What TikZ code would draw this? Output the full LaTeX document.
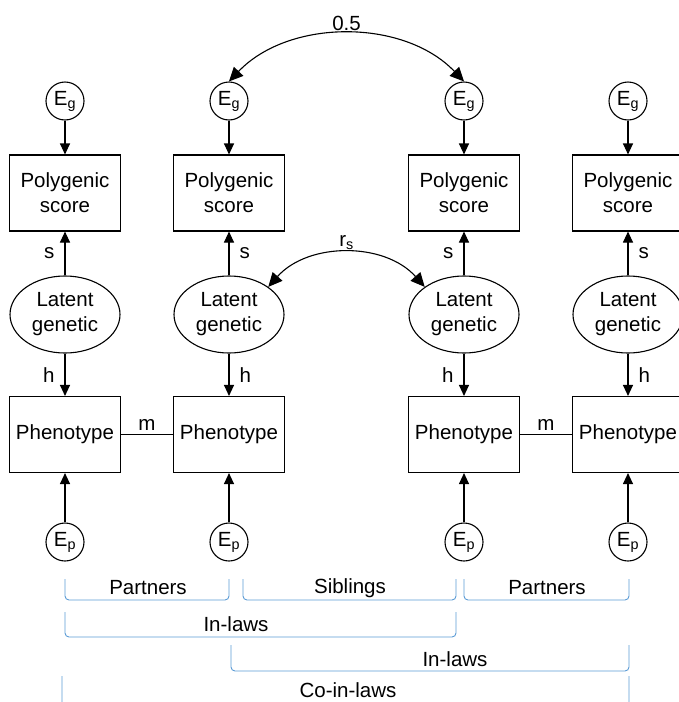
\documentclass[tikz,border=0pt]{standalone}
\usepackage{fontspec}
\setmainfont{Liberation Sans}
\usetikzlibrary{arrows.meta,shapes.geometric}
\definecolor{bracketblue}{RGB}{91,155,213}

\begin{document}
\begin{tikzpicture}[x=1pt, y=-1pt,
                    every node/.style={font=\fontsize{20.5}{25}\selectfont},
                    measured/.style={draw, line width=1.1pt, minimum width=111pt, minimum height=76pt, align=center, inner sep=0pt},
                    latent/.style={draw, ellipse, line width=1.1pt, minimum width=110pt, minimum height=77pt, align=center, inner sep=0pt},
                    resid/.style={draw, circle, line width=1.1pt, minimum size=38pt, inner sep=0pt},
                    link/.style={line width=1.1pt, -{Triangle[length=11pt,width=10pt]}},
                    covar/.style={line width=1.1pt, {Triangle[length=14pt,width=13pt]}-{Triangle[length=14pt,width=13pt]}},
                    bracket/.style={draw=bracketblue, line width=0.9pt, rounded corners=4pt}]
                    \useasboundingbox (0,0) rectangle (678,702);

                    % one column per person
                    \foreach \i/\x/\anc in {1/65/east, 2/229/west, 3/464/east, 4/628/west} {
                        \node[resid] (eg\i) at (\x,101) {E\textsubscript{g}};
                        \node[measured] (pgs\i) at (\x,193) {Polygenic\\score};
                        \node[latent] (lat\i) at (\x,314.5) {Latent\\genetic};
                        \node[measured] (phe\i) at (\x,434.5) {Phenotype};
                        \node[resid] (ep\i) at (\x,542) {E\textsubscript{p}};

                        \draw[link] (eg\i) -- (pgs\i);
                        \draw[link] (lat\i) -- (pgs\i) node[midway, anchor=\anc, inner sep=10pt] {s};
                        \draw[link] (lat\i) -- (phe\i) node[midway, anchor=\anc, inner sep=10pt] {h};
                        \draw[link] (ep\i) -- (phe\i);
                    }

                    \draw[line width=1.1pt] (phe1) -- (phe2) node[midway, above] {m};
                    \draw[line width=1.1pt] (phe3) -- (phe4) node[midway, above] {m};

                    \draw[covar] (eg2.north) .. controls +(60,-63) and +(-60,-63) .. (eg3.north) node[midway, above] {0.5};
                    \draw[covar] (lat2.north east) .. controls +(40,-45) and +(-40,-45) .. (lat3.north west) node[midway, above] {r\textsubscript{s}};

                    % relationship brackets
                    \draw[bracket] (65,579) -- (65,600) -- (229,600) -- (229,579);
                    \node (partnersA) at (148,588) {Partners};
                    \draw[bracket] (243,579) -- (243,600) -- (456,600) -- (456,579);
                    \node (siblings) at (350,588) {Siblings};
                    \draw[bracket] (464,579) -- (464,600) -- (629,600) -- (629,579);
                    \node (partnersB) at (547,588) {Partners};

                    \draw[bracket] (65,612) -- (65,637) -- (456,637) -- (456,612);
                    \node (inlawsA) at (236,624) {In-laws};
                    \draw[bracket] (231,645) -- (231,671) -- (629,671) -- (629,645);
                    \node (inlawsB) at (455,659) {In-laws};
                    \draw[bracket] (62,676) -- (62,710) -- (629,710) -- (629,676);
                    \node (coinlaws) at (348,690) {Co-in-laws};
                \end{tikzpicture}
\end{document}
